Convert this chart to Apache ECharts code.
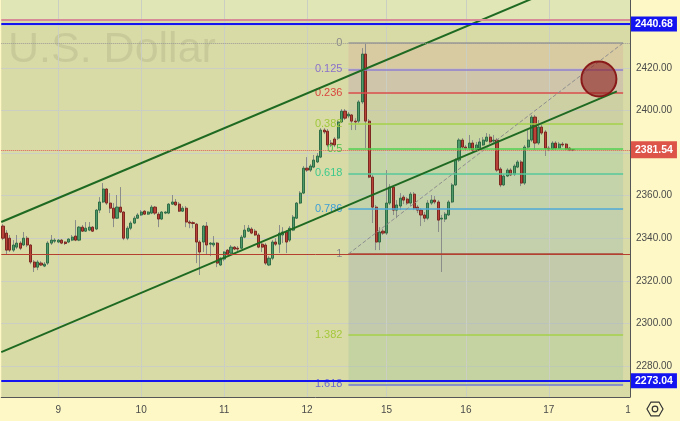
<!DOCTYPE html>
<html><head><meta charset="utf-8">
<script src="https://cdn.jsdelivr.net/npm/echarts@6/dist/echarts.min.js"></script>
<style>html,body{margin:0;padding:0;background:#fdf8c6}#c{width:680px;height:421px}</style>
</head><body><div id="c"></div><script>
// ---------- data ----------
const dayLabels = ['9','10','11','12','15','16','17','18'];
const dayIndex  = [16, 40, 64, 88, 111, 134, 158, 181];
const barCount = 182;
// hourly candles: [open, close, low, high]
const candles = [
[2345.7,2340.0,2339.1,2346.6],[2342.4,2334.4,2332.1,2343.8],[2340.0,2334.4,2333.5,2341.5],[2334.4,2336.8,2333.5,2339.1],
[2335.8,2337.7,2334.9,2341.5],[2337.7,2335.3,2334.4,2338.6],[2336.8,2340.0,2336.3,2342.9],[2340.0,2336.8,2335.8,2341.0],
[2336.8,2328.8,2327.8,2337.2],[2328.8,2326.4,2324.1,2329.7],[2326.4,2328.8,2325.0,2329.7],[2328.3,2327.4,2326.9,2329.2],
[2326.9,2327.8,2326.4,2328.8],[2328.3,2337.7,2327.4,2338.6],[2337.7,2339.1,2336.8,2341.5],[2338.6,2339.1,2337.7,2340.0],
[2338.2,2339.1,2337.7,2339.6],[2339.1,2337.7,2337.2,2339.6],[2338.2,2337.5,2336.8,2338.6],[2338.2,2339.6,2337.7,2340.0],
[2339.1,2340.5,2338.6,2341.5],[2341.0,2339.1,2338.6,2348.5],[2339.1,2345.2,2338.6,2345.7],[2345.2,2343.3,2342.9,2346.2],
[2343.3,2344.7,2342.9,2347.6],[2343.8,2345.2,2343.3,2347.6],[2345.2,2343.3,2342.9,2345.7],[2344.3,2353.2,2343.8,2353.7],
[2353.2,2357.0,2351.8,2359.3],[2357.0,2363.1,2356.5,2365.9],[2363.1,2356.5,2355.6,2363.5],[2356.5,2354.1,2351.8,2361.2],
[2354.1,2349.4,2345.2,2356.5],[2349.4,2354.6,2349.0,2360.3],[2354.6,2352.3,2351.8,2364.0],[2352.3,2340.0,2339.1,2352.7],
[2340.0,2344.7,2339.1,2345.7],[2344.7,2347.1,2343.8,2348.0],[2347.1,2349.4,2346.6,2350.4],[2349.4,2350.9,2349.0,2351.8],
[2350.9,2352.3,2350.4,2353.2],[2352.7,2351.3,2350.9,2353.2],[2351.3,2352.3,2350.9,2352.7],[2351.8,2354.6,2351.3,2355.6],
[2354.6,2351.8,2350.9,2355.1],[2351.3,2349.0,2345.2,2352.3],[2349.0,2352.3,2348.5,2352.7],[2351.8,2352.3,2351.3,2352.7],
[2351.8,2356.0,2351.3,2356.5],[2356.0,2357.0,2355.6,2360.3],[2357.0,2355.6,2355.1,2358.4],[2356.0,2352.7,2352.3,2357.0],
[2352.7,2354.1,2352.3,2355.1],[2354.1,2347.6,2345.2,2355.1],[2347.6,2347.1,2344.7,2348.5],[2347.3,2346.9,2344.7,2348.0],
[2346.6,2338.2,2328.3,2347.1],[2338.2,2333.5,2322.7,2339.1],[2338.2,2345.7,2333.5,2346.2],[2345.7,2336.8,2332.1,2347.6],
[2337.2,2337.7,2331.6,2338.2],[2336.8,2337.7,2335.8,2341.0],[2337.7,2328.3,2326.4,2338.2],[2327.4,2330.6,2326.9,2331.1],
[2330.2,2333.5,2329.2,2333.9],[2334.4,2332.5,2332.1,2334.9],[2333.0,2335.8,2332.5,2336.8],[2335.8,2334.9,2334.4,2336.3],
[2335.3,2334.9,2333.9,2336.3],[2335.3,2340.5,2334.9,2341.5],[2340.5,2343.8,2340.0,2346.2],[2343.3,2344.7,2342.9,2346.2],
[2344.3,2342.4,2341.9,2345.2],[2343.3,2341.5,2341.0,2344.3],[2341.5,2335.8,2335.3,2342.4],[2337.2,2335.8,2333.5,2338.2],
[2336.8,2328.3,2327.4,2337.7],[2327.4,2330.6,2326.9,2331.6],[2330.6,2338.2,2329.7,2339.1],[2338.2,2337.2,2336.3,2340.0],
[2337.2,2342.4,2333.0,2346.2],[2341.5,2342.9,2337.7,2345.2],[2342.9,2338.2,2333.0,2343.8],[2339.1,2344.7,2338.2,2345.7],
[2343.8,2349.9,2343.3,2350.9],[2349.4,2356.5,2349.0,2357.0],[2356.5,2361.2,2356.0,2362.1],[2361.2,2372.9,2360.7,2373.9],
[2372.9,2372.0,2371.1,2378.1],[2372.0,2373.9,2371.1,2374.8],[2373.4,2376.7,2372.9,2379.1],[2375.8,2378.6,2375.3,2380.0],
[2378.1,2390.8,2377.6,2391.7],[2390.8,2389.9,2388.9,2391.7],[2390.3,2383.8,2382.8,2391.3],[2384.7,2383.8,2382.8,2386.1],
[2386.6,2383.8,2382.8,2387.5],[2387.0,2394.6,2386.1,2395.5],[2394.6,2399.7,2394.1,2400.7],[2399.7,2396.4,2395.5,2400.7],
[2397.4,2398.3,2396.4,2399.3],[2397.9,2395.0,2390.8,2398.3],[2395.0,2394.6,2390.8,2396.4],[2395.0,2404.0,2394.1,2404.9],
[2404.0,2426.5,2403.0,2429.3],[2426.5,2395.0,2382.3,2431.7],[2395.0,2368.7,2368.2,2396.0],[2368.7,2354.6,2347.1,2369.7],
[2354.6,2338.2,2334.4,2355.6],[2338.2,2342.9,2334.4,2345.2],[2343.3,2342.4,2341.5,2344.3],[2342.4,2356.5,2341.5,2372.0],
[2356.5,2364.0,2355.6,2365.4],[2364.0,2353.2,2350.9,2365.0],[2353.2,2355.6,2349.4,2357.9],[2355.1,2358.8,2353.2,2361.2],
[2359.3,2357.9,2356.0,2360.3],[2358.4,2356.5,2355.6,2359.3],[2356.5,2360.7,2355.1,2361.7],[2360.7,2354.1,2353.2,2361.7],
[2354.6,2353.2,2351.8,2355.6],[2353.2,2350.9,2345.7,2354.1],[2350.9,2349.4,2347.6,2352.3],[2349.4,2356.5,2348.5,2357.9],
[2356.5,2357.9,2355.6,2360.3],[2357.9,2357.0,2356.0,2359.8],[2357.0,2348.5,2342.9,2357.9],[2349.0,2349.4,2324.1,2350.9],
[2349.0,2351.3,2347.6,2352.3],[2350.9,2357.0,2350.4,2357.9],[2357.0,2365.0,2356.5,2365.9],[2365.0,2376.7,2364.5,2377.6],
[2376.7,2386.1,2375.8,2387.0],[2386.1,2382.8,2381.9,2387.0],[2382.8,2382.3,2381.4,2383.8],[2382.3,2384.7,2381.4,2388.5],
[2384.7,2381.4,2380.5,2386.1],[2381.4,2383.8,2380.9,2385.2],[2382.3,2385.2,2381.4,2387.0],[2383.8,2386.1,2383.3,2387.5],
[2385.6,2387.5,2385.2,2389.4],[2387.5,2385.2,2384.2,2388.9],[2385.6,2386.1,2384.7,2388.5],[2386.1,2372.0,2371.1,2387.0],
[2372.5,2365.0,2364.0,2373.4],[2365.0,2369.2,2364.5,2370.1],[2369.2,2372.0,2368.7,2372.9],[2372.0,2369.7,2369.2,2372.9],
[2370.1,2373.9,2369.2,2374.8],[2373.4,2375.8,2372.9,2376.7],[2375.8,2365.9,2364.5,2376.7],[2365.9,2382.8,2365.0,2383.8],
[2382.8,2386.1,2381.9,2390.8],[2386.1,2396.9,2385.2,2397.9],[2396.9,2384.7,2381.4,2397.9],[2384.7,2392.2,2383.8,2395.5],
[2392.2,2389.4,2388.5,2393.6],[2389.9,2382.3,2378.6,2390.8],[2382.3,2381.9,2380.9,2383.3],[2381.9,2384.7,2381.4,2385.6],
[2384.7,2382.3,2381.4,2385.6],[2382.3,2384.2,2381.9,2385.2],[2384.2,2383.8,2382.8,2385.2],[2384.2,2381.9,2381.4,2384.7],
[2382.3,2381.4,2380.9,2382.8],[2381.6,2381.54,2380.9,2381.9]
];
// Fibonacci retracement
const fibHigh = 2431.7, fibLow = 2332.6;
const fibStartIdx = 100, fibEndIdx = 179.5;
const fibLevels = [0, 0.125, 0.236, 0.382, 0.5, 0.618, 0.786, 1, 1.382, 1.618];
const fibLabels = ['0','0.125','0.236','0.382','0.5','0.618','0.786','1','1.382','1.618'];
const fibLineColors = ['#9a9a96','#8f7fd0','#d84c4c','#a4d04a','#50d050','#55c89a','#4ea8d8','#a8443a','#a4d04a','#6c78d4'];
const fibTextColors = ['#8a8a8a','#8b72c9','#d9463e','#a0c83c','#4cc24c','#3cc98c','#3d9fd6','#8a8a8a','#a5c83c','#6a6ad0'];
const fibFillColors = ['rgba(214,176,156,0.35)','rgba(188,159,178,0.35)','rgba(183,188,158,0.35)','rgba(168,205,156,0.35)',
  'rgba(157,202,164,0.35)','rgba(157,199,176,0.35)','rgba(157,190,184,0.35)','rgba(151,173,181,0.35)','rgba(160,196,156,0.35)'];
// horizontal lines
const resistanceHigh = 2442.5;     // pink
const resistance = 2440.68;         // blue top
const support = 2273.04;            // blue bottom
const lastPrice = 2381.54;
// channel lines [barIndex, price]
const channelUpper = [[-0.5, 2347.6], [165, 2460.6]];
const channelLower = [[-0.5, 2286.5], [177.7, 2409.0]];
const targetCircle = [172.5, 2414.8];
const yMin = 2265.4, yMax = 2451.9;

// ---------- chart ----------
const chart = echarts.init(document.getElementById('c'), null, {renderer: 'canvas', width: 680, height: 421});
const cats = Array.from({length: barCount}, (_, i) => {
  const k = dayIndex.indexOf(i);
  if (k < 0) return '';
  // the last day label sits under the price scale and is partly hidden
  return k === dayLabels.length - 1 ? {value: dayLabels[k], textStyle: {padding: [0, 0, 0, 5]}} : dayLabels[k];
});
const fibPrice = l => fibHigh - l * (fibHigh - fibLow);
const bodies = candles.map(([o, c]) => [o, c, Math.min(o, c), Math.max(o, c)]);
const FONT = 'Liberation Sans';

const fibAreas = [];
for (let i = 0; i < fibLevels.length - 1; i++) {
  fibAreas.push([{coord: [fibStartIdx, fibPrice(fibLevels[i])], itemStyle: {color: fibFillColors[i]}},
                 {coord: [fibEndIdx, fibPrice(fibLevels[i + 1])]}]);
}
const fibLines = fibLevels.map((l, i) => [
  {coord: [fibStartIdx, fibPrice(l)], lineStyle: {color: fibLineColors[i], width: 1.5, type: 'solid'},
   label: {show: true, position: 'start', distance: 6, formatter: fibLabels[i], color: fibTextColors[i], fontSize: 11, fontFamily: FONT}},
  {coord: [fibEndIdx, fibPrice(l)]}
]);

const gearPts = [];
for (let k = 0; k < 6; k++) { const a = Math.PI / 3 * k; gearPts.push([655 + 8 * Math.cos(a), 409 + 8 * Math.sin(a)]); }

const tag = (text, bg, pad) => ({show: true, position: 'end', distance: 1, formatter: text, backgroundColor: bg, color: '#fff',
  padding: pad, fontSize: 10.5, fontWeight: 'bold', fontFamily: FONT});

const option = {
  animation: false,
  backgroundColor: '#fdf8c6',
  textStyle: {fontFamily: FONT},
  grid: {left: 0, right: 50, top: 0, bottom: 24, show: true, backgroundColor: '#d9dba7', borderWidth: 0},
  xAxis: [
    {type: 'category', data: cats, boundaryGap: true, z: 0,
     axisLine: {show: true, lineStyle: {color: '#555', width: 1}}, axisTick: {show: false},
     axisLabel: {interval: 0, color: '#4a4a4a', fontSize: 10, margin: 8, fontFamily: FONT}, splitLine: {show: false}},
    {type: 'value', min: -0.5, max: barCount - 0.5, show: false}
  ],
  yAxis: [
    {type: 'value', position: 'right', min: yMin, max: yMax, splitNumber: 9, axisLine: {show: false}, axisTick: {show: false},
     axisLabel: {show: false}, splitLine: {show: true, showMinLine: false, showMaxLine: false, lineStyle: {color: '#cbcec2', width: 1}}},
    {type: 'value', position: 'right', min: yMin, max: yMax, splitNumber: 9, z: 10,
     axisLine: {show: true, lineStyle: {color: '#555', width: 1}}, axisTick: {show: false}, splitLine: {show: false},
     axisLabel: {showMinLabel: false, showMaxLabel: false, formatter: v => v.toFixed(2), color: '#4a4a4a', fontSize: 10, margin: 6, fontFamily: FONT}}
  ],
  graphic: [
    {type: 'rect', z: 8, silent: true, shape: {x: 630.5, y: 398, width: 50, height: 23}, style: {fill: '#fdf8c6'}},
    {type: 'text', z: 1, silent: true, style: {x: 8, y: 50, text: 'U.S. Dollar', font: '43px "Liberation Sans"', fill: 'rgba(60,60,40,0.1)', verticalAlign: 'middle'}},
    {type: 'polygon', z: 11, silent: true, shape: {points: gearPts}, style: {fill: 'none', stroke: '#333', lineWidth: 1.2}},
    {type: 'circle', z: 11, silent: true, shape: {cx: 655, cy: 409, r: 2.8}, style: {fill: 'none', stroke: '#333', lineWidth: 1.2}}
  ],
  series: [
    { // backgrounds: top strip, fib fills, vertical grid
      type: 'line', xAxisIndex: 1, yAxisIndex: 0, data: [], z: 1, silent: true,
      markArea: {silent: true, z: 1, data: [[{yAxis: resistanceHigh, itemStyle: {color: '#e0e6b6'}}, {yAxis: yMax}]].concat(fibAreas)},
      markLine: {silent: true, z: 1, symbol: 'none', label: {show: false},
        lineStyle: {color: '#cbcec2', width: 1, type: 'solid'},
        data: dayIndex.slice(0, 7).map(i => ({xAxis: i}))}
    },
    { // wicks
      type: 'candlestick', xAxisIndex: 0, yAxisIndex: 0, data: candles, barWidth: 1, z: 3, silent: true,
      itemStyle: {color: '#8a8d8a', color0: '#8a8d8a', borderColor: '#8a8d8a', borderColor0: '#8a8d8a', borderColorDoji: '#8a8d8a', borderWidth: 1}
    },
    { // bodies
      type: 'candlestick', xAxisIndex: 0, yAxisIndex: 0, data: bodies, barWidth: 2.6, z: 4, silent: true,
      itemStyle: {color: '#4f9a68', color0: '#b84238', borderColor: '#2f6e46', borderColor0: '#7d2820', borderColorDoji: '#7d2820', borderWidth: 1}
    },
    {type: 'line', xAxisIndex: 1, yAxisIndex: 0, data: channelUpper, symbol: 'none', z: 5, silent: true, clip: true,
     lineStyle: {color: '#1f6a22', width: 2}},
    {type: 'line', xAxisIndex: 1, yAxisIndex: 0, data: channelLower, symbol: 'none', z: 5, silent: true, clip: true,
     lineStyle: {color: '#1f6a22', width: 2}},
    { // fib lines + diagonal
      type: 'line', xAxisIndex: 1, yAxisIndex: 0, data: [], z: 5, silent: true,
      markLine: {silent: true, z: 5, symbol: 'none', data: fibLines.concat([
        [{coord: [fibStartIdx, fibLow], lineStyle: {color: '#8e8e8e', width: 1, type: 'dashed'}, label: {show: false}},
         {coord: [fibEndIdx, fibHigh]}]
      ])}
    },
    { // full-width horizontal lines
      type: 'line', xAxisIndex: 1, yAxisIndex: 0, data: [], z: 6, silent: true,
      markLine: {silent: true, z: 6, symbol: 'none', data: [
        {yAxis: fibHigh, lineStyle: {color: '#9a9a96', width: 1, type: 'dotted'}, label: {show: false}},
        {yAxis: fibLow, lineStyle: {color: '#b5402f', width: 1, type: 'solid'}, label: {show: false}},
        {yAxis: resistanceHigh, lineStyle: {color: '#d98a98', width: 2, type: 'solid'}, label: {show: false}}
      ]}
    },
    { // lines with price tags on the axis
      type: 'line', xAxisIndex: 1, yAxisIndex: 0, data: [], z: 12, silent: true,
      markLine: {silent: true, z: 12, symbol: 'none', data: [
        {yAxis: resistance, lineStyle: {color: '#1414f0', width: 2, type: 'solid'}, label: tag(resistance.toFixed(2), '#1414f0', [2, 4, 2, 4])},
        {yAxis: support, lineStyle: {color: '#1414f0', width: 2, type: 'solid'}, label: tag(support.toFixed(2), '#1414f0', [2, 4, 2, 4])},
        {yAxis: lastPrice, lineStyle: {color: '#e05a50', width: 1, type: 'dotted'}, label: tag(lastPrice.toFixed(2), '#dd5449', [3, 4, 3, 4])}
      ]}
    },
    {type: 'scatter', xAxisIndex: 1, yAxisIndex: 0, data: [targetCircle], symbolSize: 35, z: 7, silent: true,
     itemStyle: {color: 'rgba(140,30,30,0.6)', borderColor: '#8a1a1a', borderWidth: 2, opacity: 1}}
  ]
};
chart.setOption(option);
</script></body></html>
